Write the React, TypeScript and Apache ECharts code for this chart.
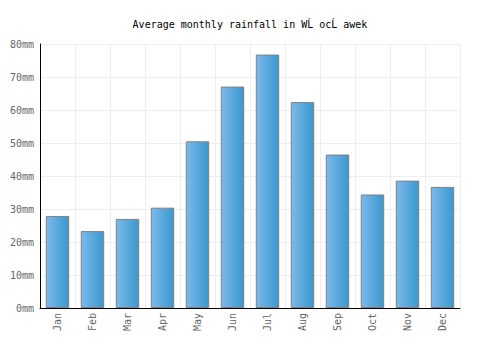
import React, { useEffect, useRef } from "react";
import * as echarts from "echarts";

const months = ["Jan", "Feb", "Mar", "Apr", "May", "Jun", "Jul", "Aug", "Sep", "Oct", "Nov", "Dec"];
const rainfall = [27.9, 23.3, 27.0, 30.4, 50.5, 67.1, 76.8, 62.4, 46.5, 34.4, 38.6, 36.7];
const titleText = "Average monthly rainfall in WĹ ocĹ awek";

export default function App() {
  const ref = useRef<HTMLDivElement>(null);
  useEffect(() => {
    if (!ref.current) return;
    const chart = echarts.init(ref.current, null, { renderer: "svg" });
    const font = "'DejaVu Sans Mono', monospace";
    chart.setOption({
      animation: false,
      title: {
        text: titleText,
        left: "center",
        top: 14,
        textStyle: { fontFamily: font, fontSize: 10, fontWeight: "normal", color: "#000" },
      },
      grid: { left: 40, right: 40, top: 44, bottom: 42 },
      xAxis: {
        type: "category",
        data: months,
        axisLine: { lineStyle: { color: "#000", width: 1 } },
        axisTick: { show: false },
        axisLabel: { rotate: 90, fontFamily: font, fontSize: 10, color: "#666", margin: 5 },
        splitLine: { show: true, lineStyle: { color: "#eee", width: 1 } },
      },
      yAxis: {
        type: "value",
        min: 0,
        max: 80,
        interval: 10,
        axisLine: { show: true, lineStyle: { color: "#000", width: 1 } },
        axisTick: { show: false },
        axisLabel: { formatter: "{value}mm", fontFamily: font, fontSize: 10, color: "#666", margin: 6 },
        splitLine: { show: true, lineStyle: { color: "#eee", width: 1 } },
      },
      series: [
        {
          type: "bar",
          data: rainfall,
          barCategoryGap: "33%",
          itemStyle: {
            color: new echarts.graphic.LinearGradient(0, 0, 1, 0, [
              { offset: 0, color: "#7db9ea" },
              { offset: 1, color: "#3898cf" },
            ]),
            borderColor: "#808080",
            borderWidth: 1,
          },
        },
      ],
    });
    return () => chart.dispose();
  }, []);
  return <div ref={ref} style={{ position: "absolute", left: 0, top: 0, width: 500, height: 350 }} />;
}
